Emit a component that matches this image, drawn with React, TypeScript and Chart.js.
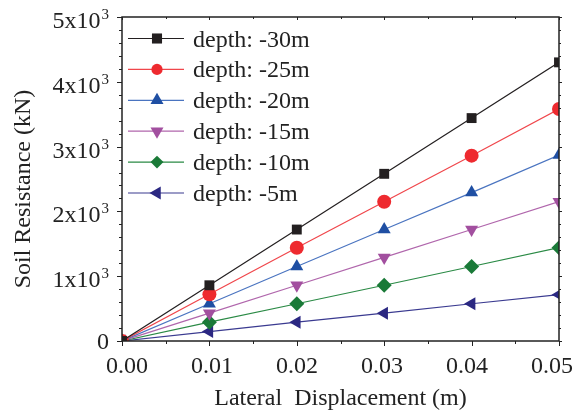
import React, { useEffect, useRef } from "react";
import { Chart, registerables } from "chart.js";

Chart.register(...registerables);

const displacement = [0, 0.01, 0.02, 0.03, 0.04, 0.05];
const depth30 = [0, 860, 1720, 2580, 3440, 4300];
const depth25 = [0, 720, 1440, 2150, 2860, 3580];
const depth20 = [0, 575, 1150, 1720, 2290, 2870];
const depth15 = [0, 430, 860, 1290, 1720, 2150];
const depth10 = [0, 290, 575, 860, 1150, 1440];
const depth5 = [0, 145, 290, 430, 575, 715];
const seriesLabels = ["depth: -30m", "depth: -25m", "depth: -20m", "depth: -15m", "depth: -10m", "depth: -5m"];
const xTickLabels = ["0.00", "0.01", "0.02", "0.03", "0.04", "0.05"];
const yTickValues = [0, 1000, 2000, 3000, 4000, 5000];
const yTickMantissa = ["0", "1x10", "2x10", "3x10", "4x10", "5x10"];
const yTickExponent = ["", "3", "3", "3", "3", "3"];
const yTitle = "Soil Resistance (kN)";
const xTitle = "Lateral  Displacement (m)";

const FONT = "'Liberation Serif', 'DejaVu Serif', serif";

function marker(ctx: CanvasRenderingContext2D, style: string, rot: number, r: number, x: number, y: number) {
  ctx.save();
  ctx.translate(x, y);
  ctx.rotate((rot * Math.PI) / 180);
  ctx.beginPath();
  if (style === "rect") {
    ctx.rect(-r * 0.72, -r * 0.72, 1.44 * r, 1.44 * r);
  } else if (style === "circle") {
    ctx.arc(0, 0, r * 0.8, 0, Math.PI * 2);
  } else if (style === "triangle") {
    ctx.moveTo(0, -r);
    ctx.lineTo(r * 0.866, r * 0.5);
    ctx.lineTo(-r * 0.866, r * 0.5);
    ctx.closePath();
  } else if (style === "rectRot") {
    ctx.moveTo(0, -r * 0.86);
    ctx.lineTo(r * 0.86, 0);
    ctx.lineTo(0, r * 0.86);
    ctx.lineTo(-r * 0.86, 0);
    ctx.closePath();
  }
  ctx.fill();
  ctx.restore();
}

export default function App() {
  const ref = useRef<HTMLCanvasElement | null>(null);
  useEffect(() => {
    document.body.style.margin = "0";
    const canvas = ref.current!;
    const values = [depth30, depth25, depth20, depth15, depth10, depth5];
    const colors = ["#231f20", "#ee2a2f", "#1f4fa3", "#a24f9f", "#1a7a38", "#2b2882"];
    const lineColors = ["#231f20", "#f0464b", "#4a74c0", "#b066ac", "#2a8a45", "#3a3a90"];
    const styles: any[] = ["rect", "circle", "triangle", "triangle", "rectRot", "triangle"];
    const rotations = [0, 0, 0, 180, 0, -90];
    const radii = [7, 7, 7.5, 7.5, 7.5, 7.5];

    const datasets = values.map((vals, i) => ({
      label: seriesLabels[i],
      data: vals.map((v, j) => ({ x: displacement[j], y: v })),
      borderColor: lineColors[i],
      backgroundColor: colors[i],
      pointBackgroundColor: colors[i],
      pointBorderColor: colors[i],
      pointBorderWidth: 0,
      borderWidth: 1.2,
      pointStyle: styles[i],
      rotation: rotations[i],
      pointRadius: radii[i],
      clip: 0,
    }));

    const axesPlugin = {
      id: "customAxes",
      afterDraw(chart: any) {
        const ctx = chart.ctx;
        const a = chart.chartArea;
        const xs = chart.scales.x;
        const ys = chart.scales.y;
        ctx.save();
        ctx.strokeStyle = "#222";
        ctx.lineWidth = 1.5;
        ctx.strokeRect(a.left, a.top, a.right - a.left, a.bottom - a.top);
        ctx.lineWidth = 1;
        for (let v = 0; v <= 5000; v += 200) {
          const py = Math.round(ys.getPixelForValue(v)) + 0.5;
          const major = v % 1000 === 0;
          const L = major ? 5 : 3;
          ctx.beginPath();
          ctx.moveTo(a.left - L, py);
          ctx.lineTo(a.left, py);
          ctx.moveTo(a.right, py);
          ctx.lineTo(a.right + (major ? 3 : 2), py);
          ctx.stroke();
        }
        for (let k = 0; k <= 10; k++) {
          const v = k * 0.005;
          const px = Math.round(xs.getPixelForValue(v)) + 0.5;
          const major = k % 2 === 0;
          const L = major ? 5 : 3;
          ctx.beginPath();
          ctx.moveTo(px, a.bottom);
          ctx.lineTo(px, a.bottom + L);
          ctx.moveTo(px, a.top);
          ctx.lineTo(px, a.top + (major ? 3 : 2));
          ctx.stroke();
        }
        // x tick labels (slightly pulled inward as in the source figure)
        ctx.fillStyle = "#222";
        ctx.font = `24px ${FONT}`;
        ctx.textAlign = "center";
        ctx.textBaseline = "alphabetic";
        const n = displacement.length - 1;
        displacement.forEach((v, i) => {
          const shift = 5 - (12 * i) / n;
          ctx.fillText(xTickLabels[i], xs.getPixelForValue(v) + shift, a.bottom + 32);
        });
        // x title
        ctx.fillText(xTitle, (a.left + a.right) / 2, 405);
        // y tick labels with superscript exponent
        ctx.textAlign = "right";
        const rightX = a.left - 13;
        yTickValues.forEach((v, i) => {
          const py = ys.getPixelForValue(v);
          if (!yTickExponent[i]) {
            ctx.font = `24px ${FONT}`;
            ctx.fillText(yTickMantissa[i], rightX, py + 8);
          } else {
            ctx.font = `15px ${FONT}`;
            const ew = ctx.measureText(yTickExponent[i]).width;
            ctx.fillText(yTickExponent[i], rightX, py + 2);
            ctx.font = `24px ${FONT}`;
            ctx.fillText(yTickMantissa[i], rightX - ew - 1, py + 11);
          }
        });
        // y title
        ctx.save();
        ctx.translate(30, 189);
        ctx.rotate(-Math.PI / 2);
        ctx.textAlign = "center";
        ctx.font = `24px ${FONT}`;
        ctx.fillText(yTitle, 0, 0);
        ctx.restore();
        // legend
        ctx.font = `24px ${FONT}`;
        ctx.textAlign = "left";
        ctx.textBaseline = "alphabetic";
        chart.data.datasets.forEach((ds: any, i: number) => {
          const cy = a.top + 21.5 + i * 30.9;
          ctx.strokeStyle = ds.borderColor;
          ctx.lineWidth = 1.2;
          ctx.beginPath();
          ctx.moveTo(a.left + 6, cy);
          ctx.lineTo(a.left + 62, cy);
          ctx.stroke();
          ctx.fillStyle = ds.pointBackgroundColor;
          marker(ctx, ds.pointStyle, ds.rotation, ds.pointRadius, a.left + 35, cy);
          ctx.fillStyle = "#222";
          ctx.fillText(ds.label, a.left + 71, cy + 8);
        });
        ctx.restore();
      },
    };

    const chart = new Chart(canvas, {
      type: "line",
      data: { datasets },
      plugins: [axesPlugin],
      options: {
        animation: false,
        responsive: false,
        maintainAspectRatio: false,
        layout: { padding: { top: 17, right: 18, left: 0, bottom: 0 } },
        plugins: { legend: { display: false }, tooltip: { enabled: false } },
        scales: {
          x: {
            type: "linear",
            min: 0,
            max: 0.05,
            grid: { display: false, drawTicks: false },
            border: { display: false },
            ticks: { stepSize: 0.01, display: false },
            afterFit: (s: any) => { s.height = 72; },
          },
          y: {
            type: "linear",
            min: 0,
            max: 5000,
            grid: { display: false, drawTicks: false },
            border: { display: false },
            ticks: { stepSize: 1000, display: false },
            afterFit: (s: any) => { s.width = 122; },
          },
        },
      },
    });
    return () => chart.destroy();
  }, []);
  return (
    <div style={{ width: 577, height: 413, background: "#fff" }}>
      <canvas ref={ref} width={577} height={413} style={{ display: "block" }} />
    </div>
  );
}
